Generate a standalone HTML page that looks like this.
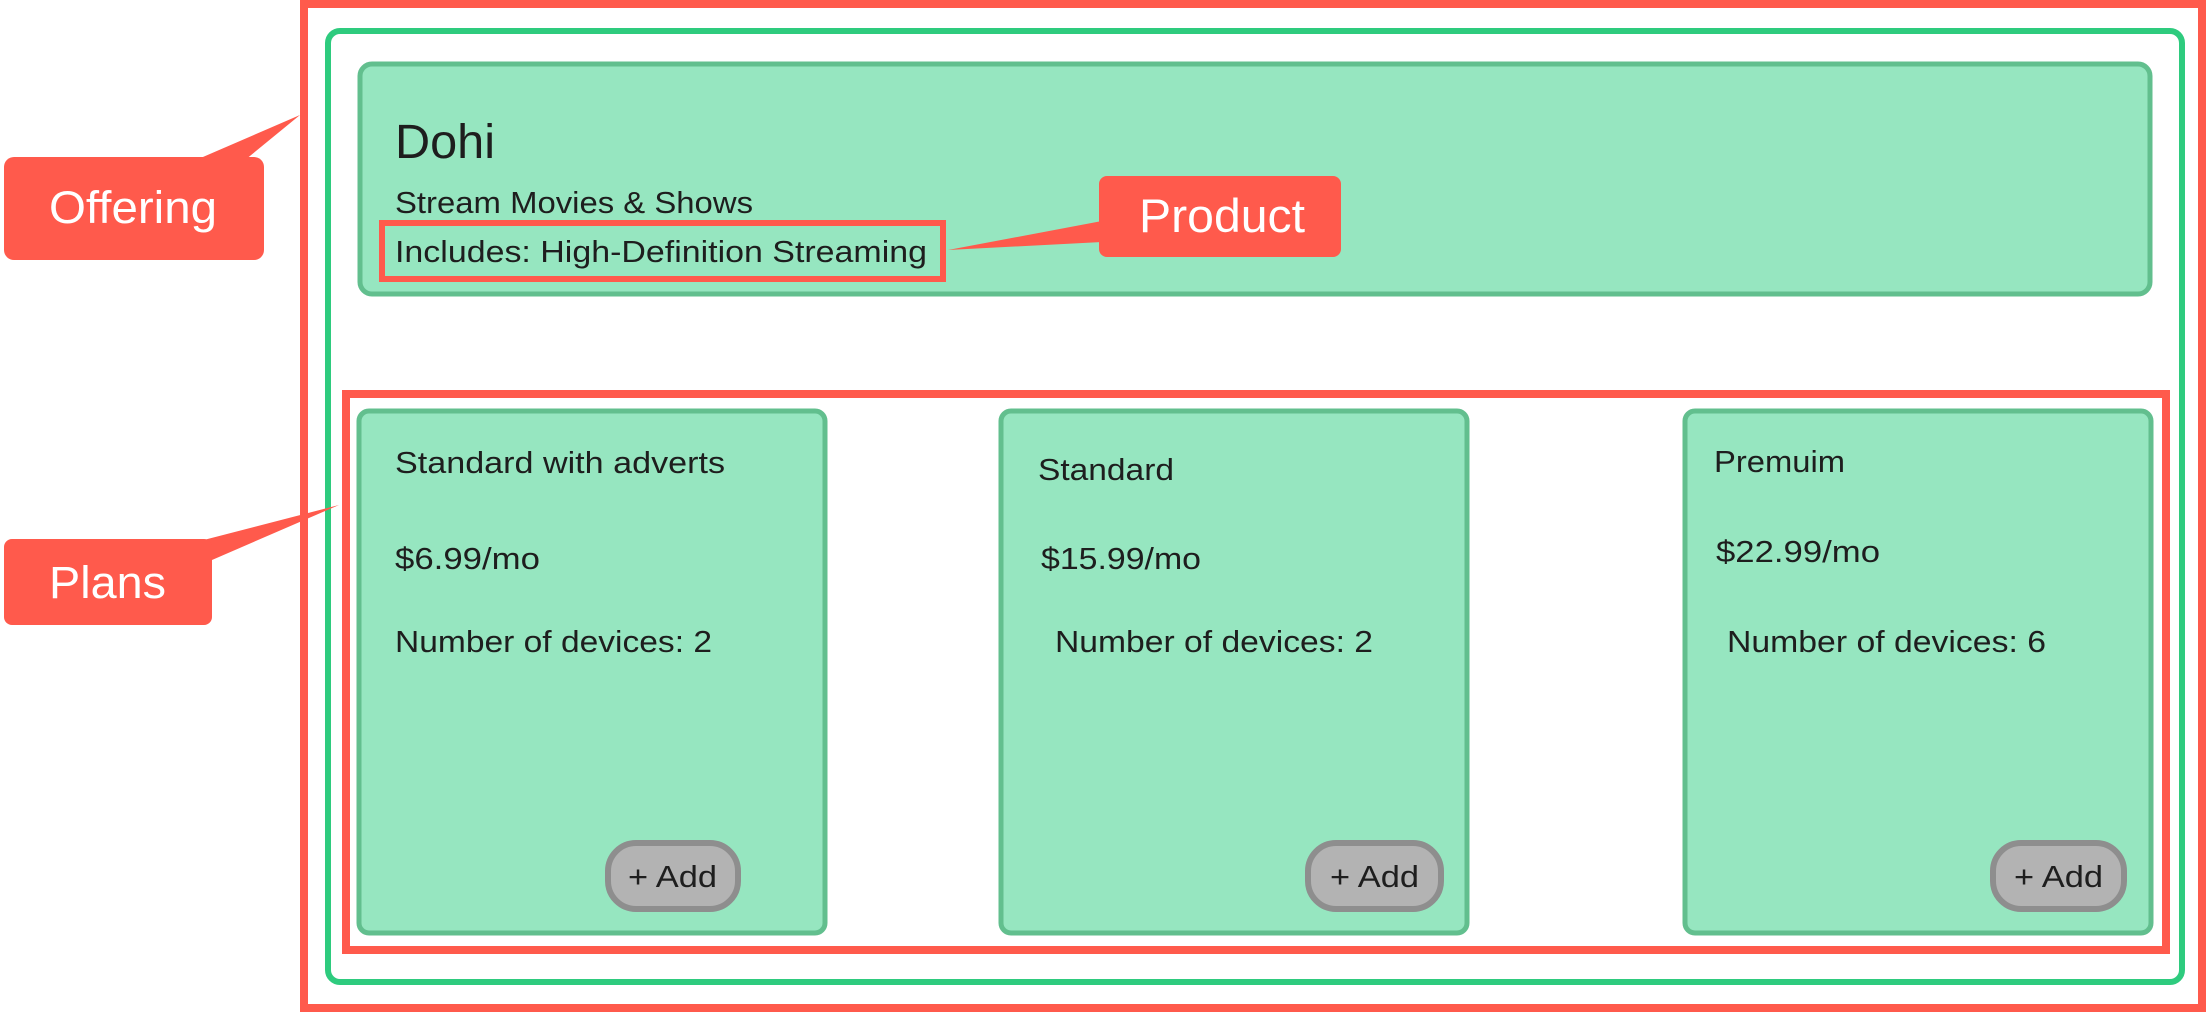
<!DOCTYPE html>
<html><head><meta charset="utf-8"><style>
html,body{margin:0;padding:0;background:#fff;}
svg{display:block;font-family:"Liberation Sans",sans-serif;}
</style></head><body>
<svg width="2212" height="1030" viewBox="0 0 2212 1030" xmlns="http://www.w3.org/2000/svg">
<rect x="0" y="0" width="2212" height="1030" fill="#fff"/>
<rect x="304" y="4" width="1898" height="1004" fill="none" stroke="#ff5a4c" stroke-width="8"/>
<rect x="328" y="31" width="1854" height="951" rx="12" fill="none" stroke="#2ecb7e" stroke-width="6"/>
<rect x="360" y="64" width="1790" height="230" rx="12" fill="#96e6c0" stroke="#62bf8e" stroke-width="5"/>
<text x="395" y="158" font-size="48" fill="#1e1e1e" textLength="100" lengthAdjust="spacingAndGlyphs">Dohi</text>
<text x="395" y="213" font-size="31" fill="#1e1e1e" textLength="358" lengthAdjust="spacingAndGlyphs">Stream Movies &amp; Shows</text>
<rect x="382" y="223" width="561" height="56" fill="none" stroke="#ff5a4c" stroke-width="6"/>
<text x="395" y="262" font-size="31" fill="#1e1e1e" textLength="532" lengthAdjust="spacingAndGlyphs">Includes: High-Definition Streaming</text>
<polygon points="1102,221 948,250 1102,242" fill="#ff5a4c"/>
<rect x="1099" y="176" width="242" height="81" rx="8" fill="#ff5a4c"/>
<text x="1139" y="232" font-size="47" fill="#fff" textLength="166" lengthAdjust="spacingAndGlyphs">Product</text>
<polygon points="196,160 300,115 245,160" fill="#ff5a4c"/>
<rect x="4" y="157" width="260" height="103" rx="10" fill="#ff5a4c"/>
<text x="49" y="223" font-size="45" fill="#fff" textLength="168" lengthAdjust="spacingAndGlyphs">Offering</text>
<rect x="346" y="394" width="1820" height="556" fill="none" stroke="#ff5a4c" stroke-width="8"/>
<polygon points="196,542 339,505 212,560" fill="#ff5a4c"/>
<rect x="4" y="539" width="208" height="86" rx="8" fill="#ff5a4c"/>
<text x="49" y="598" font-size="45" fill="#fff" textLength="117" lengthAdjust="spacingAndGlyphs">Plans</text>
<g fill="#96e6c0" stroke="#62bf8e" stroke-width="5">
<rect x="359" y="411" width="466" height="522" rx="10"/>
<rect x="1001" y="411" width="466" height="522" rx="10"/>
<rect x="1685" y="411" width="466" height="522" rx="10"/>
</g>
<g font-size="31" fill="#1e1e1e" lengthAdjust="spacingAndGlyphs">
<text x="395" y="473" textLength="330" lengthAdjust="spacingAndGlyphs">Standard with adverts</text>
<text x="395" y="569" textLength="145" lengthAdjust="spacingAndGlyphs">$6.99/mo</text>
<text x="395" y="652" textLength="317" lengthAdjust="spacingAndGlyphs">Number of devices: 2</text>
<text x="1038" y="480" textLength="136" lengthAdjust="spacingAndGlyphs">Standard</text>
<text x="1041" y="569" textLength="160" lengthAdjust="spacingAndGlyphs">$15.99/mo</text>
<text x="1055" y="652" textLength="318" lengthAdjust="spacingAndGlyphs">Number of devices: 2</text>
<text x="1714" y="472" textLength="131" lengthAdjust="spacingAndGlyphs">Premuim</text>
<text x="1716" y="562" textLength="164" lengthAdjust="spacingAndGlyphs">$22.99/mo</text>
<text x="1727" y="652" textLength="319" lengthAdjust="spacingAndGlyphs">Number of devices: 6</text>
</g>
<g fill="#b3b3b3" stroke="#8e8e8e" stroke-width="6">
<rect x="608" y="843" width="130" height="66" rx="28"/>
<rect x="1308" y="843" width="133" height="66" rx="28"/>
<rect x="1993" y="843" width="131" height="66" rx="28"/>
</g>
<g font-size="31" fill="#1e1e1e">
<text x="628" y="887" textLength="89" lengthAdjust="spacingAndGlyphs">+ Add</text>
<text x="1330" y="887" textLength="89" lengthAdjust="spacingAndGlyphs">+ Add</text>
<text x="2014" y="887" textLength="89" lengthAdjust="spacingAndGlyphs">+ Add</text>
</g>
</svg>
</body></html>
